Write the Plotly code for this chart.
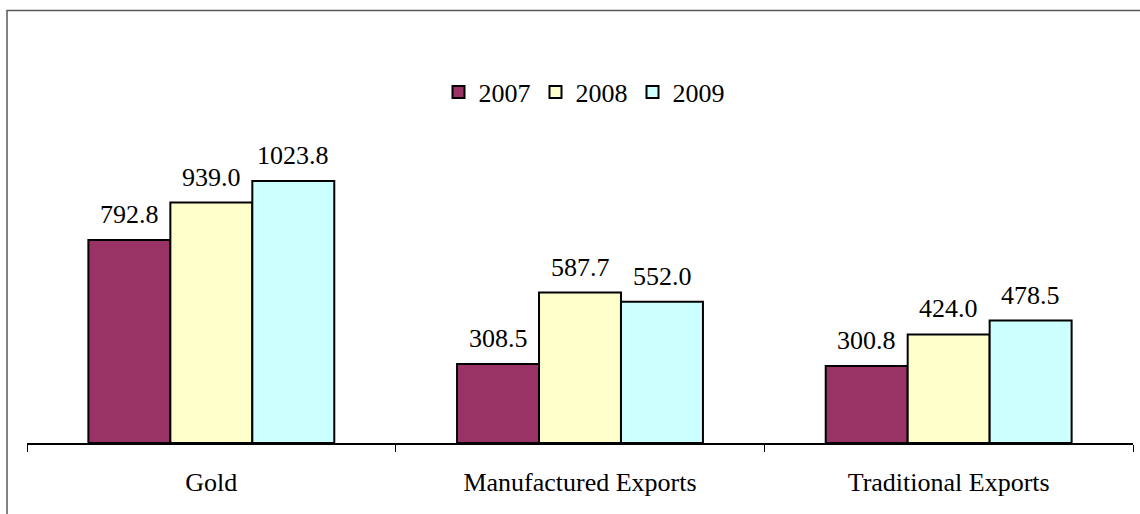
import plotly.graph_objects as go

categories = ["Gold", "Manufactured Exports", "Traditional Exports"]
years = ["2007", "2008", "2009"]
values_2007 = [792.8, 308.5, 300.8]
values_2008 = [939.0, 587.7, 424.0]
values_2009 = [1023.8, 552.0, 478.5]
colors = ["#993366", "#FFFFCC", "#CCFFFF"]

FONT = "Liberation Serif, Times New Roman, serif"
FS = 26

fig = go.Figure()
series = [values_2007, values_2008, values_2009]
for name, vals, col in zip(years, series, colors):
    fig.add_trace(go.Bar(
        name=name, x=categories, y=vals,
        marker=dict(color=col, line=dict(color="black", width=2)),
    ))

# value labels above bars
bar_px = 82
for i, vals in enumerate(series):
    for c, v in zip(categories, vals):
        fig.add_annotation(x=c, y=v, text=f"{v:.1f}", showarrow=False,
                           xanchor="center", yanchor="bottom",
                           xshift=(i - 1) * bar_px, yshift=9,
                           font=dict(family=FONT, size=FS, color="black"))

W, H = 1140, 514
ml, mr, mt, mb = 27, 7, 59, 71
pw, ph = W - ml - mr, H - mt - mb

def px_x(p):
    return (p - ml) / pw

def px_y(p):
    return (H - mb - p) / ph

fig.update_layout(
    width=W, height=H,
    margin=dict(l=ml, r=mr, t=mt, b=mb),
    paper_bgcolor="white", plot_bgcolor="white",
    barmode="group", bargap=0.333, bargroupgap=0,
    font=dict(family=FONT, size=FS, color="black"),
    showlegend=True,
    legend=dict(orientation="h", x=px_x(584), xanchor="center", y=px_y(92), yanchor="middle",
                font=dict(family=FONT, size=FS, color="black"),
                itemwidth=30, tracegroupgap=0, bgcolor="rgba(0,0,0,0)"),
    xaxis=dict(showline=True, linecolor="black", linewidth=2,
               ticks="outside", tickson="boundaries", ticklen=7, tickcolor="black", tickwidth=1,
               ticklabelstandoff=15, tickfont=dict(family=FONT, size=FS, color="black"),
               showgrid=False, zeroline=False),
    yaxis=dict(range=[0, 1500], visible=False, showgrid=False, zeroline=False),
    shapes=[dict(type="rect", xref="paper", yref="paper",
                 x0=px_x(7), x1=px_x(1150), y0=px_y(10.5), y1=px_y(530),
                 line=dict(color="#595959", width=1.5), fillcolor="rgba(0,0,0,0)", layer="below")],
)

fig.write_html("out.html", config={"displayModeBar": False},
               post_script="document.body.style.margin='0';")
